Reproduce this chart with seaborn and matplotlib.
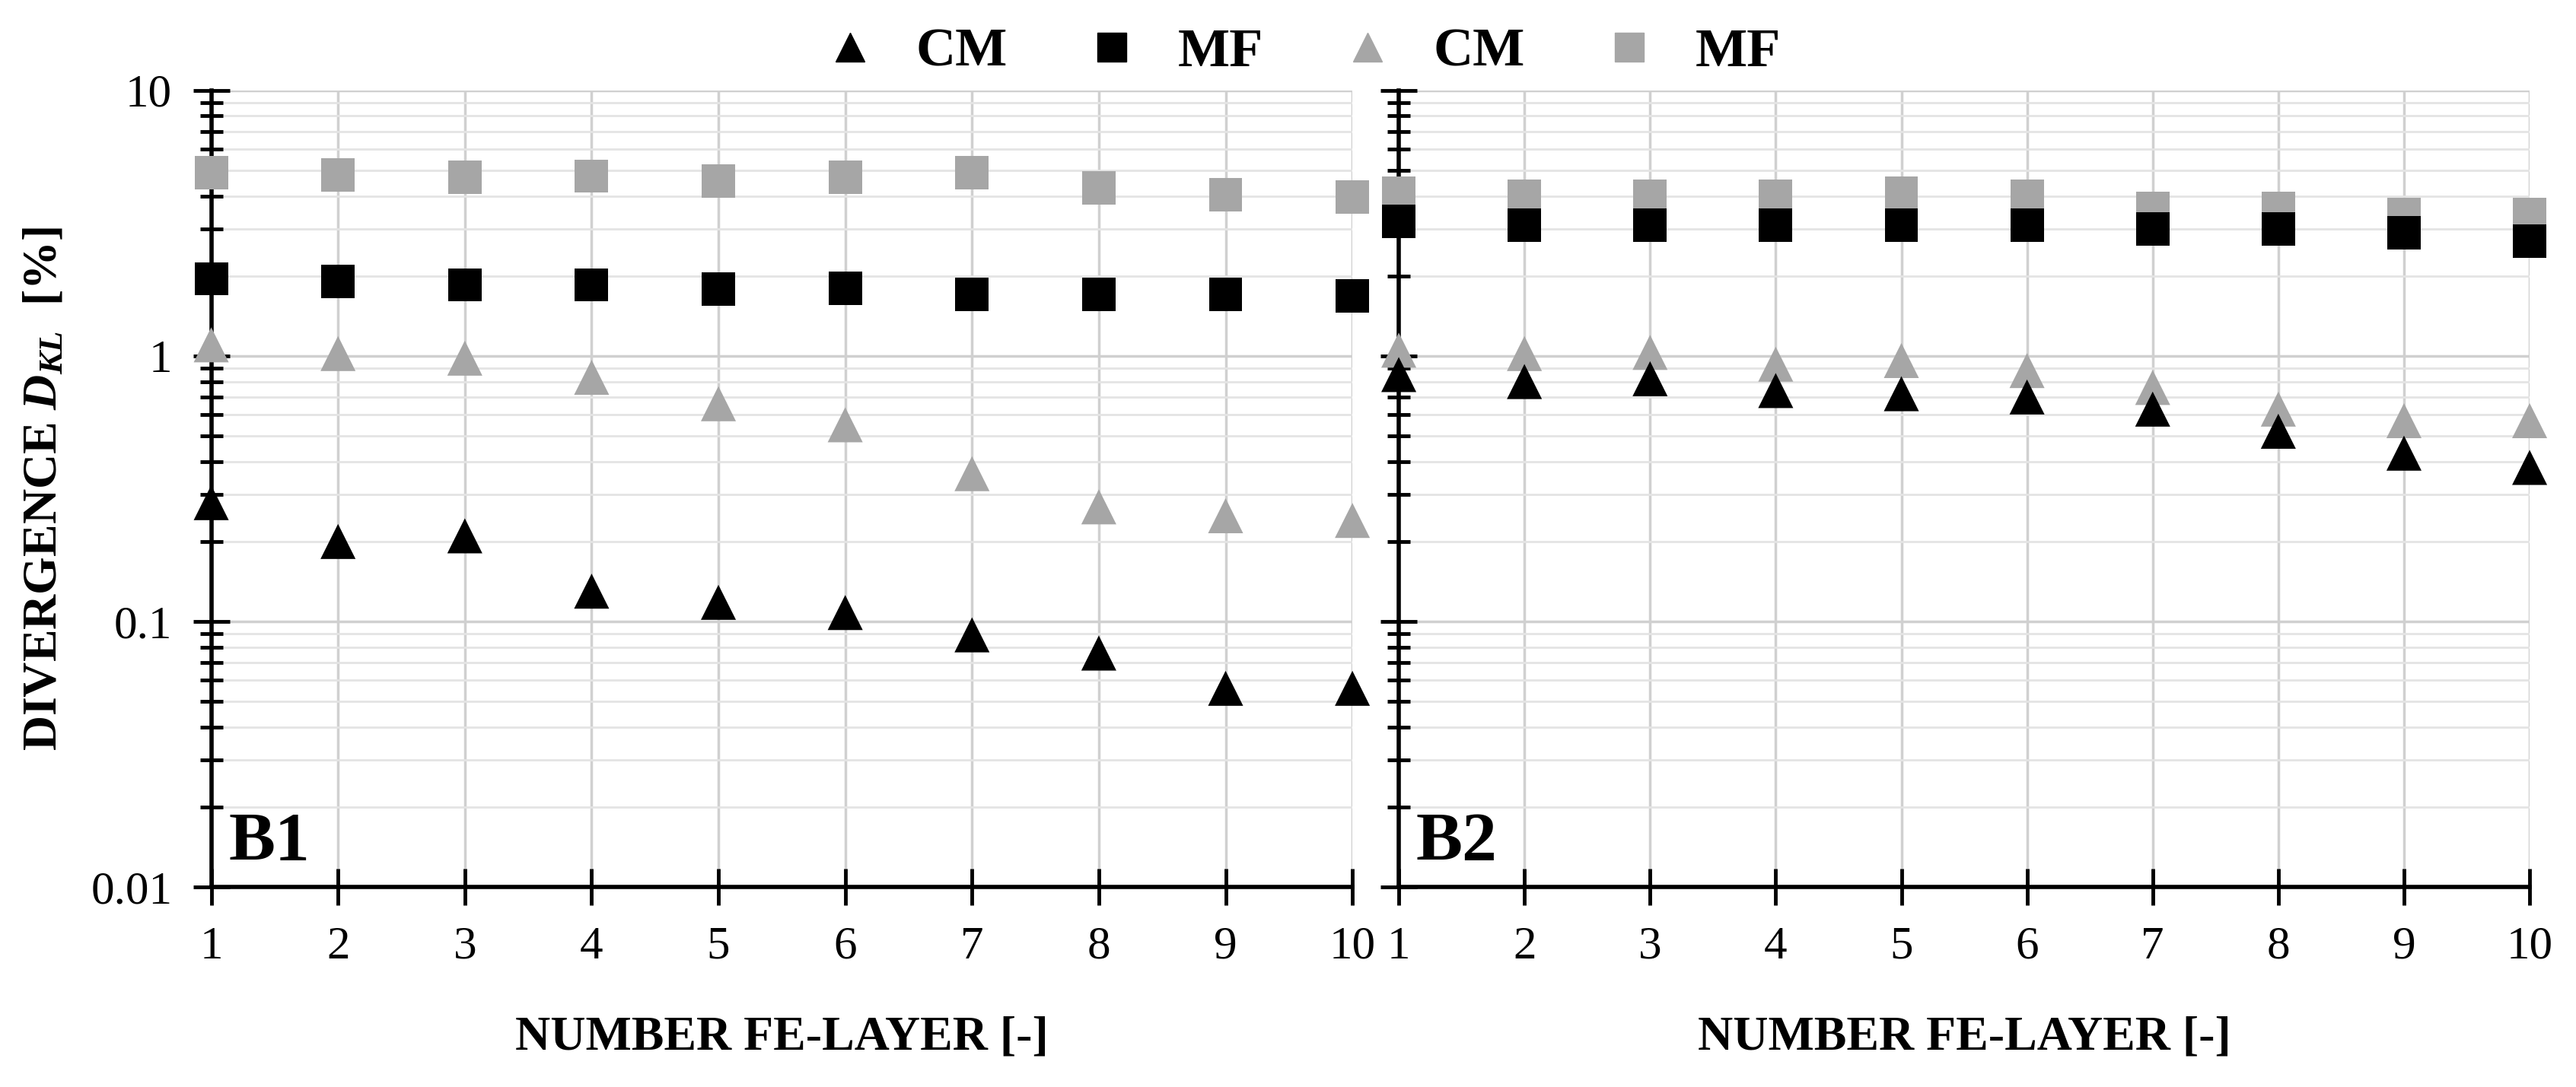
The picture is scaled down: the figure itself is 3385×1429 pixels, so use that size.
import matplotlib
matplotlib.use("Agg")
import matplotlib.pyplot as plt
import seaborn as sns
import pandas as pd
import numpy as np
from matplotlib.ticker import LogLocator, NullFormatter

layers = list(range(1, 11))
b1_cm_black = [0.28, 0.20, 0.21, 0.13, 0.118, 0.108, 0.089, 0.076, 0.056, 0.056]
b1_mf_black = [1.95, 1.90, 1.85, 1.85, 1.78, 1.80, 1.70, 1.70, 1.70, 1.68]
b1_cm_grey = [1.10, 1.02, 0.98, 0.83, 0.66, 0.55, 0.36, 0.27, 0.25, 0.24]
b1_mf_grey = [4.90, 4.80, 4.70, 4.75, 4.55, 4.70, 4.90, 4.30, 4.05, 3.95]
b2_cm_black = [0.85, 0.80, 0.82, 0.74, 0.72, 0.70, 0.63, 0.52, 0.43, 0.38]
b2_mf_black = [3.20, 3.10, 3.10, 3.10, 3.10, 3.10, 3.00, 3.00, 2.90, 2.70]
b2_cm_grey = [1.05, 1.02, 1.03, 0.93, 0.96, 0.88, 0.76, 0.63, 0.57, 0.57]
b2_mf_grey = [4.10, 4.00, 4.00, 4.00, 4.10, 4.00, 3.60, 3.60, 3.40, 3.40]
panels = ["B1", "B2"]

sns.set_style("white", {"xtick.bottom": True, "ytick.left": True})
plt.rcParams['font.family'] = ['Liberation Serif', 'DejaVu Serif']
plt.rcParams['text.color'] = 'black'
plt.rcParams['axes.labelcolor'] = 'black'
plt.rcParams['xtick.color'] = 'black'
plt.rcParams['ytick.color'] = 'black'
plt.rcParams['mathtext.fontset'] = 'custom'
plt.rcParams['mathtext.it'] = 'Liberation Serif:italic:bold'
plt.rcParams['mathtext.rm'] = 'Liberation Serif:bold'

fig = plt.figure(figsize=(33.85, 14.29), dpi=100)
ax1 = fig.add_axes([0.082, 0.184, 0.443, 0.733])
ax2 = fig.add_axes([0.543, 0.184, 0.439, 0.733])

GREY = "#a6a6a6"
series = [("cm_grey", GREY, "^"), ("mf_grey", GREY, "s"),
          ("cm_black", "black", "^"), ("mf_black", "black", "s")]
data = {"B1": dict(cm_black=b1_cm_black, mf_black=b1_mf_black, cm_grey=b1_cm_grey, mf_grey=b1_mf_grey),
        "B2": dict(cm_black=b2_cm_black, mf_black=b2_mf_black, cm_grey=b2_cm_grey, mf_grey=b2_mf_grey)}

handles = {}
for ax, name in zip([ax1, ax2], panels):
    ax.set_yscale("log")
    ax.set_ylim(0.01, 10)
    ax.set_xlim(1, 10)
    ax.yaxis.set_minor_locator(LogLocator(base=10, subs=np.arange(2, 10)))
    ax.yaxis.set_minor_formatter(NullFormatter())
    ax.grid(True, which="major", color="#d0d0d0", lw=2.5)
    ax.grid(True, which="minor", axis="y", color="#e4e4e4", lw=2)
    ax.set_axisbelow(True)
    for key, col, mk in series:
        df = pd.DataFrame({"x": layers, "y": data[name][key]})
        sns.scatterplot(data=df, x="x", y="y", ax=ax, color=col, marker=mk,
                        s=1000 if mk == "s" else 1100, edgecolor="none", zorder=3, clip_on=False)
        handles[key] = plt.Line2D([], [], ls="none", marker=mk, color=col, markersize=28)
    for s in ["top", "right"]:
        ax.spines[s].set_visible(False)
    for s in ["left", "bottom"]:
        ax.spines[s].set_linewidth(4)
        ax.spines[s].set_color("black")
    ax.set_xticks(layers)
    ax.tick_params(axis="both", which="major", direction="inout", length=34, width=3.5,
                   labelsize=44, pad=20, colors="black")
    ax.tick_params(axis="y", which="minor", direction="inout", length=22, width=3.5, colors="black")
    ax.tick_params(axis="x", which="minor", length=0)
    ax.set_xlabel("NUMBER FE-LAYER [-]", fontsize=46, fontweight="bold", labelpad=45)
    ax.text(0.015, 0.015, name, transform=ax.transAxes, fontsize=66, fontweight="bold", va="bottom")
    ax.set_ylabel("")

ax1.set_yticks([0.01, 0.1, 1, 10])
ax1.set_yticklabels(["0.01", "0.1", "1", "10"])
ax2.set_yticks([0.01, 0.1, 1, 10])
ax2.set_yticklabels([])
ax1.set_ylabel(r"DIVERGENCE $D_{KL}$  [%]", fontsize=46, fontweight="bold", labelpad=22)

fig.legend([handles["cm_black"], handles["mf_black"], handles["cm_grey"], handles["mf_grey"]],
           ["CM", "MF", "CM", "MF"], loc="upper center", bbox_to_anchor=(0.5, 1.02), ncol=4,
           frameon=False, prop={"size": 52, "weight": "bold"}, handletextpad=0.2, columnspacing=0.9)

fig.savefig("out.png", dpi=100)
